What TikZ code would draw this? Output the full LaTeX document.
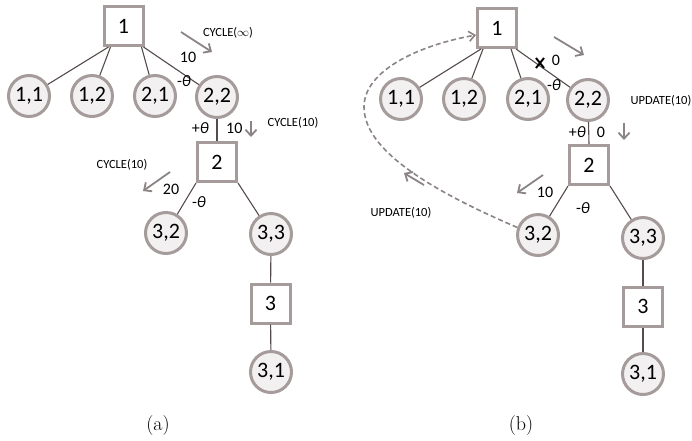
\documentclass[tikz,border=0pt]{standalone}
\usepackage{fontspec}
\newfontfamily\carl{Carlito}
\usetikzlibrary{arrows.meta}
\definecolor{bord}{RGB}{165,155,155}
\definecolor{fillc}{RGB}{242,240,240}
\definecolor{edgec}{RGB}{85,75,75}
\definecolor{arrc}{RGB}{140,132,132}
\newcommand{\thet}{{\itshape θ}}
\begin{document}
\begin{tikzpicture}[x=1pt,y=-1pt,
 circ/.style={circle,draw=bord,fill=fillc,line width=3pt,minimum size=41pt,inner sep=0pt,font=\carl\fontsize{22}{22}\selectfont},
 sq/.style={rectangle,draw=bord,fill=white,line width=3pt,minimum size=39pt,inner sep=0pt,font=\carl\fontsize{22}{22}\selectfont},
 edge/.style={draw=edgec,line width=1.1pt},
 lab/.style={font=\carl\fontsize{16}{16}\selectfont,inner sep=0pt},
 small/.style={font=\carl\fontsize{12.5}{12.5}\selectfont,inner sep=0pt},
 hint/.style={draw=arrc,line width=1.8pt,-{Straight Barb[length=6pt,width=11pt]}},
 capt/.style={font=\fontsize{20}{20}\selectfont,inner sep=0pt}]
\useasboundingbox (0,0) rectangle (692,440);
% ---------- panel (a)
\node[sq] (a1) at (123.5,26) {1};
\node[circ] (a11) at (29,96) {1,1};
\node[circ] (a12) at (92,96) {1,2};
\node[circ] (a21) at (155,96) {2,1};
\node[circ] (a22) at (217,97) {2,2};
\node[sq] (a2) at (217,162) {2};
\node[circ] (a32) at (166,233) {3,2};
\node[circ] (a33) at (271,234) {3,3};
\node[sq] (a3) at (270.5,303.5) {3};
\node[circ] (a31) at (271,372) {3,1};
\node[capt] (capa) at (158,425) {(a)};
\draw[edge] ([xshift=6pt]a1.south west) -- (a11);
\draw[edge] ([xshift=8pt]a1.south west) -- (a12);
\draw[edge] ([xshift=-3pt]a1.south east) -- (a21);
\draw[edge] ([xshift=-1pt]a1.south east) -- (a22);
\draw[edge] (a2.north) -- (a22);
\draw[edge] (a2.south west) -- (a32);
\draw[edge] (a2.south east) -- (a33);
\draw[edge] (a33) -- (a3);
\draw[edge] (a3) -- (a31);
\node[lab] (al1) at (188,57) {10};
\node[lab] (al2) at (184,81) {-\thet};
\node[lab,anchor=east] (al3) at (209,128) {+\thet};
\node[lab,anchor=west] (al4) at (226,128) {10};
\node[lab] (al5) at (171,189) {20};
\node[lab] (al6) at (199,202) {-\thet};
\node[small] (at1) at (228,33) {CYCLE($\infty$)};
\node[small] (at2) at (293,123) {CYCLE(10)};
\node[small] (at3) at (122,165) {CYCLE(10)};
\coordinate (aa1s) at (181,32); \coordinate (aa1e) at (212,52);
\coordinate (aa2s) at (251,121); \coordinate (aa2e) at (251,137);
\coordinate (aa3s) at (170,172); \coordinate (aa3e) at (143,191);
\draw[hint] (aa1s) -- (aa1e);
\draw[hint] (aa2s) -- (aa2e);
\draw[hint] (aa3s) -- (aa3e);
% ---------- panel (b)
\node[sq] (b1) at (497,28) {1};
\node[circ] (b11) at (401,99) {1,1};
\node[circ] (b12) at (464,99) {1,2};
\node[circ] (b21) at (528,99) {2,1};
\node[circ] (b22) at (588,100) {2,2};
\node[sq] (b2) at (589,165) {2};
\node[circ] (b32) at (538,235) {3,2};
\node[circ] (b33) at (643,238) {3,3};
\node[sq] (b3) at (643,306.5) {3};
\node[circ] (b31) at (643,374) {3,1};
\node[capt] (capb) at (521,425) {(b)};
\draw[edge] ([xshift=5pt]b1.south west) -- (b11);
\draw[edge] ([xshift=7pt]b1.south west) -- (b12);
\draw[edge] ([xshift=-7pt]b1.south east) -- (b21);
\draw[edge] ([xshift=-2pt]b1.south east) -- (b22);
\draw[edge] (b2.north) -- (b22);
\draw[edge] (b2.south west) -- (b32);
\draw[edge] (b2.south east) -- (b33);
\draw[edge] (b33) -- (b3);
\draw[edge] (b3) -- (b31);
\coordinate (bx) at (540,63);
\draw[black,line width=2pt] ([shift={(-4,-5)}]bx) -- ([shift={(4,5)}]bx);
\draw[black,line width=2pt] ([shift={(-4,5)}]bx) -- ([shift={(4,-5)}]bx);
\node[lab] (bl1) at (556,60) {0};
\node[lab] (bl2) at (554,85) {-\thet};
\node[lab,anchor=east] (bl3) at (586,132) {+\thet};
\node[lab] (bl4) at (601,132) {0};
\node[lab] (bl5) at (545,192) {10};
\node[lab] (bl6) at (583,208) {-\thet};
\node[small] (bt1) at (661,101) {UPDATE(10)};
\node[small] (bt2) at (401,213) {UPDATE(10)};
\coordinate (ba1s) at (554,37); \coordinate (ba1e) at (584,55);
\coordinate (ba2s) at (624,123); \coordinate (ba2e) at (624,140);
\coordinate (ba3s) at (543,175); \coordinate (ba3e) at (517,193);
\coordinate (ba4s) at (424,185); \coordinate (ba4e) at (404,173);
\draw[hint] (ba1s) -- (ba1e);
\draw[hint] (ba2s) -- (ba2e);
\draw[hint] (ba3s) -- (ba3e);
\draw[hint] (ba4s) -- (ba4e);
\draw[draw=arrc,line width=1.6pt,dash pattern=on 5pt off 3pt,-{Straight Barb[length=6pt,width=10pt]}]
  (b32.160) .. controls (430,190) and (364,150) .. (364,107)
  .. controls (364,70) and (420,45) .. ([yshift=-7pt]b1.west);
\end{tikzpicture}
\end{document}
